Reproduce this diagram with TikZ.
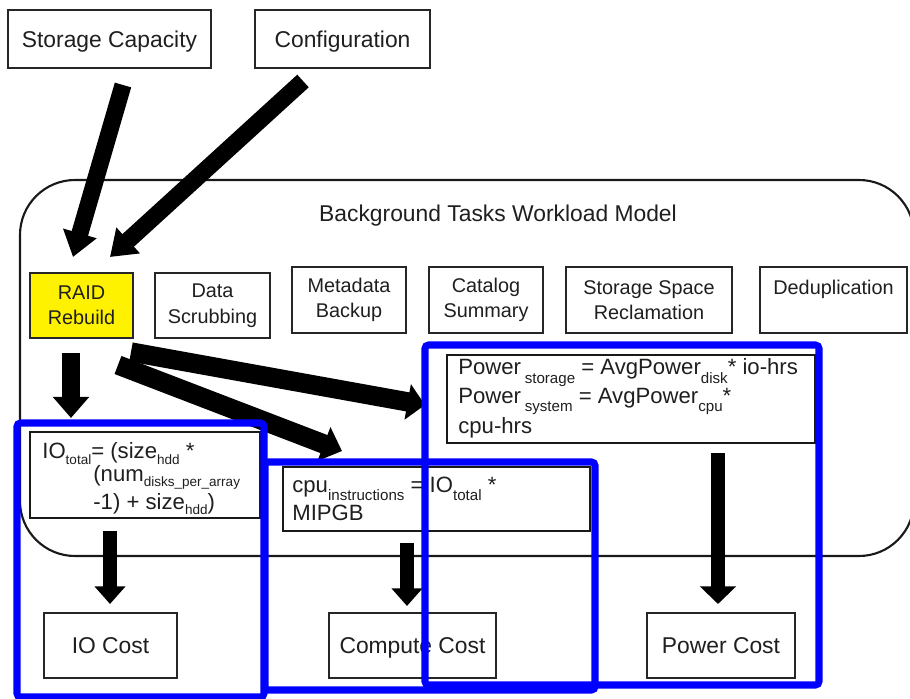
\documentclass[tikz,border=0pt]{standalone}
\usepackage{fontspec}
\setmainfont{Liberation Sans}
\usetikzlibrary{arrows.meta}

% one unit of the picture is 0.02cm
\def\px{0.02cm}
% lowered, smaller subscript text used in the formulas
\newcommand{\fsub}[1]{\raisebox{-5pt}{\fontsize{8.6}{9}\selectfont #1}}
\newcommand{\fsubs}[1]{\raisebox{-3.4pt}{\fontsize{7.7}{8}\selectfont #1}}

\tikzset{
  inbox/.style={draw=black!85, line width=1.3pt, text=black!88, align=center,
    inner sep=0pt, text depth=0pt, font=\fontsize{13}{15}\selectfont},
  taskbox/.style={draw=black!85, line width=1.3pt, text=black!88, align=center,
    inner sep=0pt, font=\fontsize{11.3}{14.5}\selectfont},
  formbox/.style={draw=black!90, line width=1.4pt, inner sep=0pt},
  ftext/.style={anchor=base west, inner sep=0pt, text=black!88,
    font=\fontsize{12.6}{15}\selectfont},
  bigarrow/.style={line width=#1, black},
  frame/.style={draw=blue, line width=4pt, rounded corners=2pt},
  container/.style={draw=black!90, line width=1.2pt, rounded corners=1.1cm}
}

\begin{document}
\begin{tikzpicture}[x=0.02cm, y=-0.02cm]
\useasboundingbox[fill=white] (0,0) rectangle (910,699);

% inputs
\node[inbox, minimum width=203*\px, minimum height=58*\px] (sc) at (109.5,39) {Storage Capacity};
\node[inbox, minimum width=175*\px, minimum height=58*\px] (cfg) at (342.5,39) {Configuration};

% workload model container
\draw[container] (20,180) rectangle (914,556);
\node[font=\fontsize{13}{15}\selectfont, text=black!88] (bgtitle) at (498,216) {Background Tasks Workload Model};

% background tasks
\node[taskbox, fill=yellow, minimum width=103*\px, minimum height=65*\px] (raid) at (81.5,305.5) {RAID\\Rebuild};
\node[taskbox, minimum width=115*\px, minimum height=65*\px] (scrub) at (212.5,305.5) {Data\\Scrubbing};
\node[taskbox, minimum width=114*\px, minimum height=66*\px] (meta) at (349,300) {Metadata\\Backup};
\node[taskbox, minimum width=114*\px, minimum height=66*\px] (catalog) at (486,300) {Catalog\\Summary};
\node[taskbox, minimum width=166*\px, minimum height=66*\px] (reclaim) at (649,300) {Storage Space\\Reclamation};
\node[taskbox, minimum width=147*\px, minimum height=66*\px] (dedup) at (833.5,300) {Deduplication\\\mbox{}};

% formula boxes
\node[formbox, minimum width=230*\px, minimum height=86*\px] (iof) at (145,475) {};
\node[formbox, minimum width=307*\px, minimum height=64*\px] (cpuf) at (436.5,499) {};
\node[formbox, minimum width=368*\px, minimum height=88*\px] (pwrf) at (631,399) {};

\node[ftext] (iof1) at (42,459) {IO\fsubs{total}= (size\fsubs{hdd} *};
\node[ftext] (iof2) at (93,481) {(num\fsubs{disks\_per\_array}};
\node[ftext] (iof3) at (93,509) {-1) + size\fsubs{hdd})};

\node[ftext] (cpuf1) at (292,492) {cpu\fsub{instructions} = IO\fsub{total} *};
\node[ftext] (cpuf2) at (292,520) {MIPGB};

\node[ftext] (pwrf1) at (458,375) {Power\,\fsub{storage} = AvgPower\fsub{disk}* io-hrs};
\node[ftext] (pwrf2) at (458,403) {Power\,\fsub{system} = AvgPower\fsub{cpu}*};
\node[ftext] (pwrf3) at (458,434) {cpu-hrs};

% costs
\node[inbox, minimum width=133*\px, minimum height=65*\px] (iocost) at (110.5,645.5) {IO Cost};
\node[inbox, minimum width=167*\px, minimum height=65*\px] (cpucost) at (412.5,645.5) {Compute Cost};
\node[inbox, minimum width=148*\px, minimum height=65*\px] (pwrcost) at (721,645.5) {Power Cost};

% connector ends
\coordinate (sc-out) at (123,85);
\coordinate (raid-in1) at (73,257);
\coordinate (cfg-out) at (303,81);
\coordinate (raid-in2) at (110,257);
\coordinate (raid-down) at (71,353);
\coordinate (iof-in) at (71,418);
\coordinate (raid-out1) at (131,352);
\coordinate (pwrf-in) at (425,405);
\coordinate (raid-out2) at (118,365);
\coordinate (cpuf-in) at (342,451);
\coordinate (iof-out) at (110,531);
\coordinate (iocost-in) at (110,604);
\coordinate (cpuf-out) at (407,543);
\coordinate (cpucost-in) at (407,606);
\coordinate (pwrf-out) at (718,453);
\coordinate (pwrcost-in) at (718,604);

% block arrows
\draw[bigarrow=9.7pt, -{Triangle[width=19pt,length=14pt]}] (sc-out) -- (raid-in1);
\draw[bigarrow=9.7pt, -{Triangle[width=19pt,length=14pt]}] (cfg-out) -- (raid-in2);
\draw[bigarrow=10.2pt, -{Triangle[width=20pt,length=12pt]}] (raid-down) -- (iof-in);
\draw[bigarrow=11pt, -{Triangle[width=20pt,length=10pt]}] (raid-out1) -- (pwrf-in);
\draw[bigarrow=11pt, -{Triangle[width=20pt,length=11pt]}] (raid-out2) -- (cpuf-in);
\draw[bigarrow=8pt, -{Triangle[width=17pt,length=10pt]}] (iof-out) -- (iocost-in);
\draw[bigarrow=8pt, -{Triangle[width=17pt,length=10pt]}] (cpuf-out) -- (cpucost-in);
\draw[bigarrow=8pt, -{Triangle[width=20pt,length=10pt]}] (pwrf-out) -- (pwrcost-in);

% grouping frames
\draw[frame] (17,423) rectangle (264,697);
\draw[frame] (265,462) rectangle (595,690);
\draw[frame] (425,345) rectangle (819,685);
\end{tikzpicture}
\end{document}
